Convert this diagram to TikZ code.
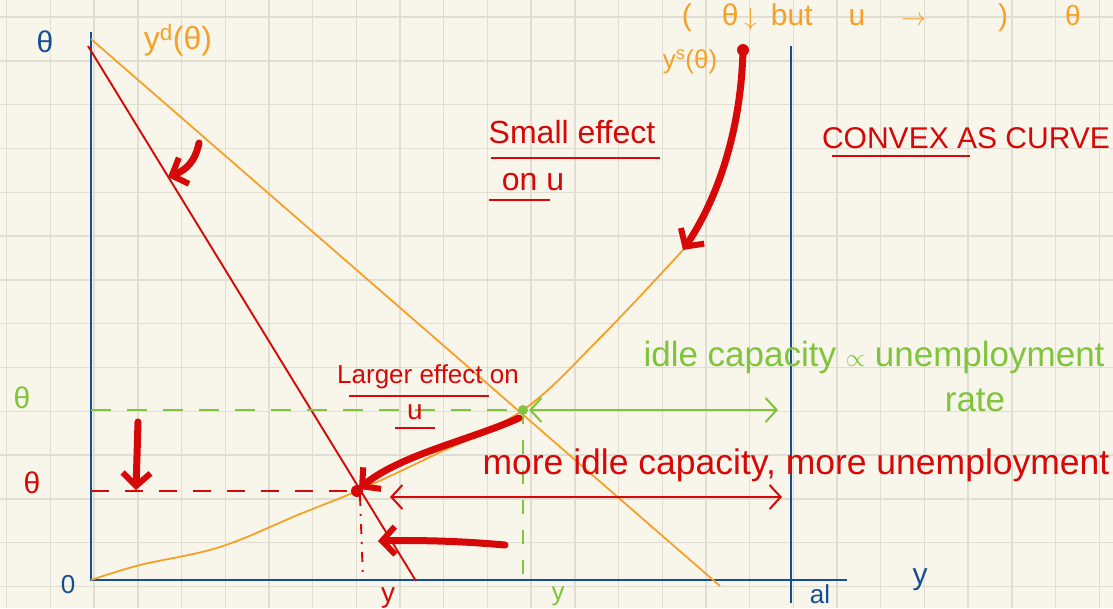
\documentclass[tikz,border=0pt]{standalone}
\usepackage{fontspec}
\setmainfont{Liberation Sans}
\usetikzlibrary{arrows.meta}
\definecolor{paper}{RGB}{248,246,235}
\definecolor{gridc}{RGB}{224,222,210}
\definecolor{axisblue}{RGB}{22,78,150}
\definecolor{curveorange}{RGB}{245,160,40}
\definecolor{inkred}{RGB}{214,8,8}
\definecolor{inkgreen}{RGB}{128,196,60}
\tikzset{
  gridline/.style={gridc, line width=1.4pt},
  axisline/.style={axisblue, line width=2.6pt},
  orangeline/.style={curveorange, line width=1.8pt},
  redthin/.style={inkred, line width=1.9pt},
  redthick/.style={inkred, line width=7pt, line cap=round, line join=round,
    -{Straight Barb[length=13pt,width=28pt,line width=6pt]}},
  greenthin/.style={inkgreen, line width=2pt},
  hand/.style={inner sep=0pt, font=\fontsize{#1pt}{#1pt}\selectfont},
  openhead/.tip={Straight Barb[length=11pt,width=24pt,line width=2pt]},
}
\begin{document}
\begin{tikzpicture}[x=1pt,y=-1pt]
\useasboundingbox (0,0) rectangle (1113,608);
\fill[paper] (0,0) rectangle (1113,608);
\foreach \i in {0,...,25} \draw[gridline] ({6.7+43.7*\i},0) -- ++(0,608);
\foreach \j in {0,...,13} \draw[gridline] (0,{17+43.8*\j}) -- ++(1113,0);

% key points
\coordinate (O) at (91,580);
\coordinate (Ytop) at (91,32);
\coordinate (Xend) at (847,580);
\coordinate (CapTop) at (791,46);
\coordinate (CapBot) at (791,603);
\coordinate (Dtop) at (91,39);
\coordinate (Dbot) at (720,586);
\coordinate (Rtop) at (88,46);
\coordinate (Rbot) at (416,581);
\coordinate (E1) at (523,410);
\coordinate (E2) at (357,491);
\coordinate (Stop) at (743,50);
\coordinate (Sarr) at (683,250);

% axes
\draw[axisline] (Ytop) -- (O) -- (Xend);
\draw[axisline] (CapTop) -- (CapBot);

% demand lines
\draw[orangeline] (Dtop) -- (Dbot);
\draw[redthin] (Rtop) -- (Rbot);

% supply curve
\draw[orangeline] plot[smooth, tension=0.6] coordinates {(O) (140,565) (220,547) (300,514) (E2) (430,457) (E1) (600,338) (Sarr)};
\draw[orangeline] (Sarr) .. controls (718,198) and (741,130) .. (Stop);

% dashed guides
\coordinate (G0) at (91,410);
\coordinate (R0) at (91,491);
\coordinate (Gx) at (523,580);
\coordinate (Rx) at (363,580);
\draw[greenthin, dash pattern=on 20pt off 16pt] (G0) -- (E1);
\draw[greenthin, dash pattern=on 14pt off 16pt] (E1) -- (Gx);
\draw[redthin, dash pattern=on 18pt off 16pt] (R0) -- (E2);
\draw[redthin, dash pattern=on 10pt off 8pt on 2pt off 8pt] (360,496) -- (Rx);

% double arrows
\coordinate (GA1) at (529,410);
\coordinate (GA2) at (778,410);
\draw[greenthin, openhead-openhead] (GA1) -- (GA2);
\coordinate (RA1) at (390,497);
\coordinate (RA2) at (782,497);
\draw[redthin, openhead-openhead] (RA1) -- (RA2);

% thick red arrows
\draw[redthick] (Stop) .. controls (741,130) and (718,198) .. (Sarr);
\fill[inkred] (Stop) circle (6pt);
\coordinate (TL1) at (199,143);
\coordinate (TL2) at (168,177);
\draw[redthick] (TL1) .. controls (195,162) and (186,170) .. (TL2);
\coordinate (DA1) at (138,422);
\coordinate (DA2) at (136,490);
\draw[redthick] (DA1) -- (DA2);
\draw[redthick] (519,418) .. controls (470,440) and (400,455) .. (359,489);
\coordinate (LA1) at (505,545);
\coordinate (LA2) at (378,541);
\draw[redthick] (LA1) .. controls (460,541) and (420,540) .. (LA2);

% equilibrium dots
\fill[inkred] (E2) circle (6pt);
\fill[inkgreen] (E1) circle (5pt);

% labels
\node[hand=30, text=axisblue] (thetaAxis) at (45,42) {θ};
\node[hand=26, text=axisblue] (zero) at (68,585) {0};
\node[hand=30, text=axisblue] (ylab) at (920,580) {y};
\node[hand=26, text=axisblue] (al) at (820,594) {al};
\node[hand=32, text=curveorange] (yd) at (178,40) {y\textsuperscript{d}(θ)};
\node[hand=26, text=curveorange] (ys) at (690,62) {y\textsuperscript{s}(θ)};
\node[hand=30, text=curveorange, anchor=base] (topnote) at (845,25) {(\hspace{30pt}θ\hspace{6pt}$\downarrow$\hspace{14pt}but\hspace{36pt}u\hspace{36pt}$\rightarrow$\hspace{72pt})};
\node[hand=28, text=curveorange, anchor=base] (topnote2) at (1073,25) {θ};

\node[hand=32, text=inkred] (small) at (572,132) {Small effect};
\draw[redthin] (491,158) -- (660,158);
\node[hand=32, text=inkred] (onu) at (533,182) {on u};
\draw[redthin] (489,200) -- (550,200);
\node[hand=30, text=inkred] (convex) at (966,138) {CONVEX AS CURVE};
\draw[redthin] (832,156) -- (970,156);
\node[hand=26, text=inkred] (larger) at (428,377) {Larger effect on};
\draw[redthin] (349,396) -- (489,396);
\node[hand=28, text=inkred] (largeru) at (415,412) {u};
\draw[redthin] (395,428) -- (435,428);

\node[hand=35, text=inkgreen] (idle) at (874,357) {idle capacity $\propto$ unemployment};
\node[hand=35, text=inkgreen] (rate) at (975,400) {rate};
\node[hand=35.5, text=inkred] (more) at (796,465) {more idle capacity, more unemployment};

\node[hand=30, text=inkgreen] (thetaG) at (22,398) {θ};
\node[hand=30, text=inkred] (thetaR) at (32,483) {θ};
\node[hand=28, text=inkred] (yR) at (388,598) {y};
\node[hand=26, text=inkgreen] (yG) at (558,596) {y};
\end{tikzpicture}
\end{document}
